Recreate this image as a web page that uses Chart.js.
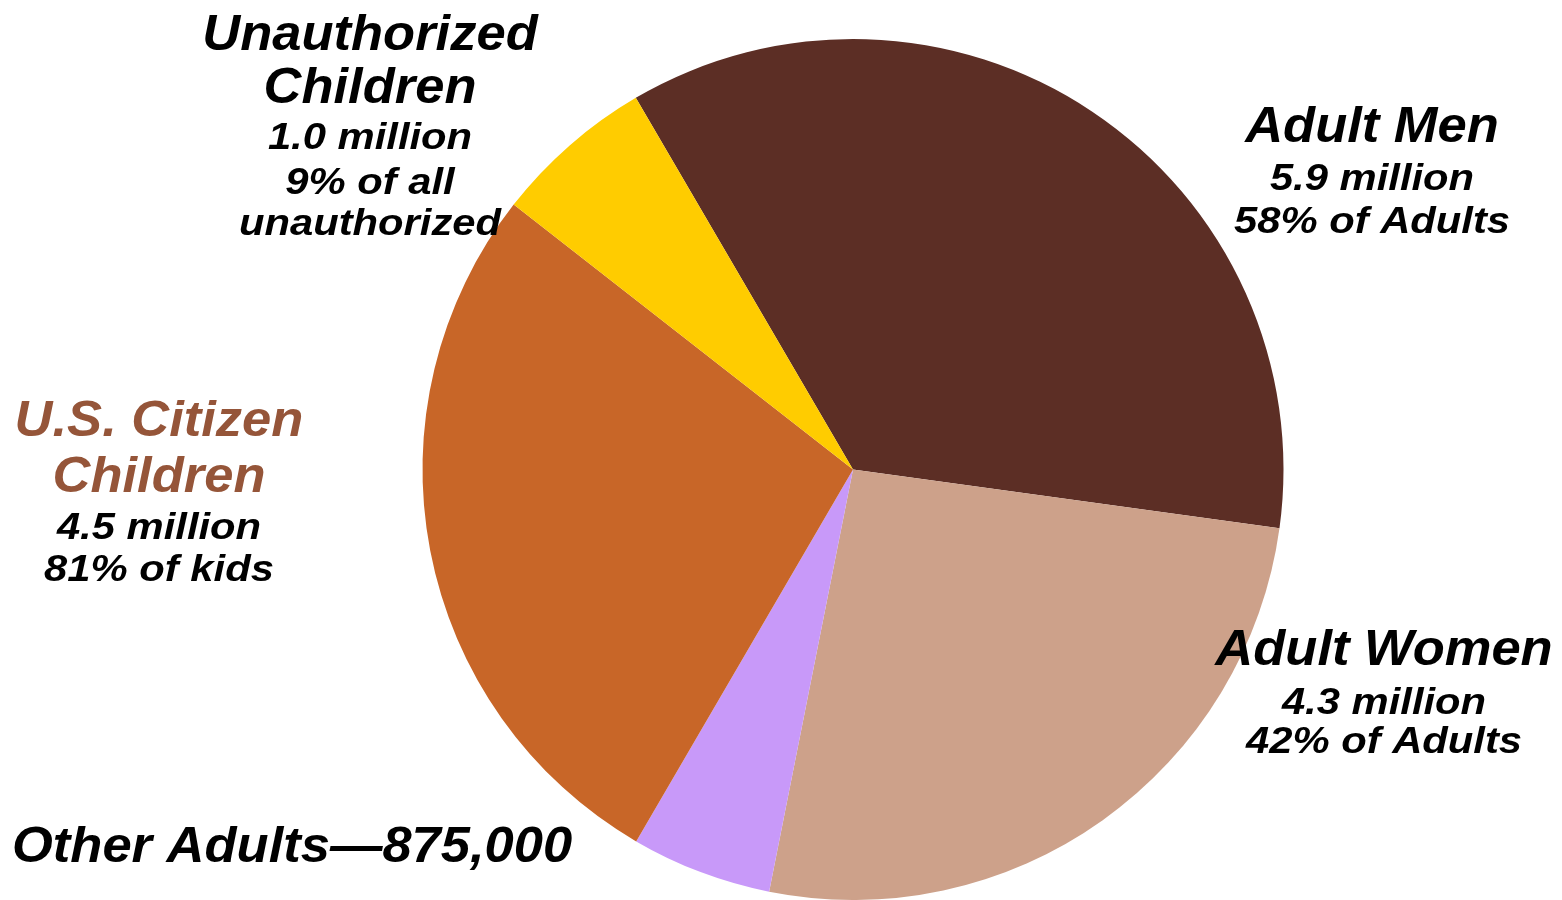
<!DOCTYPE html>
<html>
<head>
<meta charset="utf-8">
<title>Unauthorized immigrant households</title>
<script src="https://cdn.jsdelivr.net/npm/chart.js@4"></script>
<style>
  html, body { margin: 0; padding: 0; background: #fff; }
  #wrap { width: 1562px; height: 900px; }
</style>
</head>
<body>
<div id="wrap"><canvas id="pie" width="1562" height="900"></canvas></div>
<script>
// Slices, clockwise from the Adult Men / Unauthorized Children boundary.
const categories = ["Adult Men", "Adult Women", "Other Adults", "U.S. Citizen Children", "Unauthorized Children"];
const millions = [5.9, 4.3, 0.875, 4.5, 1.0];
const sliceColors = ["#5c2e25", "#cda18a", "#c899f9", "#c86628", "#ffcc00"];

// Label text for each slice: title lines, then detail lines.
const labelTitles = [["Adult Men"], ["Adult Women"], ["Other Adults\u2014875,000"], ["U.S. Citizen", "Children"], ["Unauthorized", "Children"]];
const labelDetails = [
  ["5.9 million", "58% of Adults"],
  ["4.3 million", "42% of Adults"],
  [],
  ["4.5 million", "81% of kids"],
  ["1.0 million", "9% of all", "unauthorized"],
];

// Where each label block sits (x anchor + baselines), and how it is styled.
const labelLayout = [
  { x: 1372, align: "center", lines: [142, 190, 233], titleColor: "#000" },
  { x: 1384, align: "center", lines: [665, 714, 753], titleColor: "#000" },
  { x: 12, align: "left", lines: [862], titleColor: "#000" },
  { x: 159, align: "center", lines: [436, 492, 539, 581], titleColor: "#955539" },
  { x: 370, align: "center", lines: [50, 103, 149, 194, 235], titleColor: "#000" },
];

const TITLE_FONT = "italic bold 50px 'Liberation Sans', Arial, sans-serif";
const DETAIL_FONT = "italic bold 36px 'Liberation Sans', Arial, sans-serif";

function drawStretched(ctx, text, x, y, align, sx) {
  ctx.save();
  ctx.translate(x, y);
  ctx.scale(sx, 1);
  ctx.textAlign = align;
  ctx.fillText(text, 0, 0);
  ctx.restore();
}

const sliceLabels = {
  id: "sliceLabels",
  afterDraw(chart) {
    const ctx = chart.ctx;
    ctx.save();
    ctx.textBaseline = "alphabetic";
    labelLayout.forEach((lay, i) => {
      let row = 0;
      ctx.font = TITLE_FONT;
      ctx.fillStyle = lay.titleColor;
      for (const t of labelTitles[i]) {
        drawStretched(ctx, t, lay.x, lay.lines[row++], lay.align, 1.05);
      }
      ctx.font = DETAIL_FONT;
      ctx.fillStyle = "#000";
      for (const t of labelDetails[i]) {
        drawStretched(ctx, t, lay.x, lay.lines[row++], lay.align, 1.16);
      }
    });
    ctx.restore();
  },
};

new Chart(document.getElementById("pie"), {
  type: "pie",
  data: {
    labels: categories,
    datasets: [{
      data: millions,
      backgroundColor: sliceColors,
      borderWidth: 0,
      hoverOffset: 0,
    }],
  },
  options: {
    responsive: false,
    animation: false,
    devicePixelRatio: 1,
    rotation: -30.3,
    layout: { padding: { top: 39, bottom: -1, left: 422, right: 278 } },
    plugins: {
      legend: { display: false },
      tooltip: { enabled: false },
    },
  },
  plugins: [sliceLabels],
});
</script>
</body>
</html>
